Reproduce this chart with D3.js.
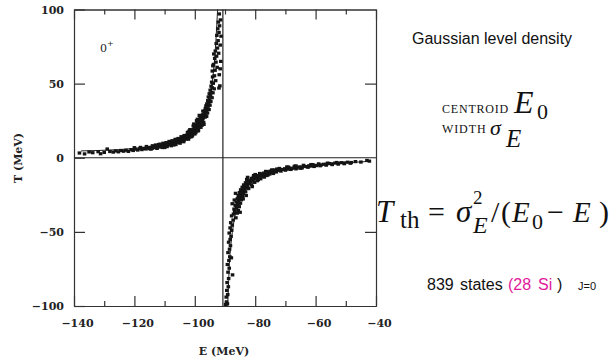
<!DOCTYPE html>
<html>
<head>
<meta charset="utf-8">
<title>T vs E, Gaussian level density</title>
<script src="https://cdn.jsdelivr.net/npm/d3@7"></script>
<style>
  body { margin: 0; background: #fff; }
  .tick text { font-family: "DejaVu Serif", serif; font-weight: bold; font-size: 11px; fill: #222; }
  .domain, .tick line { stroke: #333; stroke-width: 1.2px; }
  .math { font-family: "Liberation Serif", serif; fill: #111; }
</style>
</head>
<body>
<script>
// centroid of the level density (MeV)
const centroid = -90.7;

const xMajorTicks = [-140, -120, -100, -80, -60, -40];
const xMinorTicks = [-130, -110, -90, -70, -50];
const yTicks = [-100, -50, 0, 50, 100];

// states below the centroid : [E, T]
const upperStates = [
  [-138.2,3.2],[-136.5,2.6],[-135.0,3.9],[-133.8,3.4],[-132.0,4.1],[-131.2,2.7],[-130.0,3.6],[-129.0,5.9],
  [-128.1,4.2],[-127.0,3.8],[-126.2,4.6],[-125.3,4.0],[-124.5,4.9],[-123.6,4.4],[-122.8,5.1],[-122.0,4.3],
  [-121.1,5.4],[-120.4,4.9],[-119.6,5.8],[-118.9,5.2],[-118.2,6.1],[-117.5,5.5],[-116.9,6.3],[-116.2,5.9],
  [-115.6,6.6],[-115.0,6.1],
  [-114.6,7.0],[-114.1,6.4],[-113.7,7.3],[-113.2,6.8],[-112.8,7.6],[-112.3,7.1],[-111.9,8.0],[-111.4,7.4],
  [-111.0,8.3],[-110.6,7.8],[-110.2,8.8],[-109.8,8.1],[-109.4,9.0],[-109.0,8.5],[-108.6,9.4],[-108.2,8.9],
  [-107.9,9.9],[-107.5,9.2],[-107.1,10.3],[-106.8,9.6],[-106.4,10.8],[-106.1,10.1],[-105.7,11.2],[-105.4,10.5],
  [-105.0,11.8],[-104.7,11.0],[-104.4,12.4],[-104.1,11.5],[-103.8,12.9],[-103.5,12.0],[-103.2,13.4],[-102.9,12.6],
  [-102.6,14.0],[-112.0,8.9],[-108.0,10.6],[-106.0,12.3],[-104.0,13.8],[-110.0,6.9],[-107.0,8.6],
  [-120.0,6.8],[-118.0,7.0],[-116.0,7.6],[-114.0,8.1],[-113.0,8.6],[-111.5,9.2],[-110.5,9.8],[-109.5,10.2],
  [-108.5,11.0],[-107.5,11.5],[-106.5,12.4],[-105.5,13.0],[-104.5,14.2],[-103.5,15.0],[-114.5,5.8],[-112.5,6.3],
  [-110.8,6.9],[-109.2,7.5],[-107.8,8.1],[-106.3,8.9],[-104.9,9.8],[-103.7,10.8],
  [-102.8,13.1],[-102.7,15.2],[-102.5,14.3],[-102.3,13.6],[-102.2,16.0],[-102.0,14.9],[-101.8,15.8],[-101.7,13.9],
  [-101.5,16.7],[-101.4,15.3],[-101.2,17.5],[-101.0,16.1],[-100.9,18.3],[-100.7,16.9],[-100.6,19.0],[-100.4,17.6],
  [-100.2,20.1],[-100.1,18.4],[-99.9,19.5],[-99.8,21.2],[-99.6,18.9],[-99.5,22.0],[-99.3,20.4],[-99.2,23.1],
  [-99.0,21.3],[-98.9,19.8],[-98.7,24.0],[-98.6,22.2],[-98.4,25.3],[-98.3,23.1],[-98.1,21.9],[-98.0,26.2],
  [-97.8,24.4],[-97.7,27.5],[-97.5,25.6],[-97.4,29.0],[-97.2,26.8],[-97.1,23.9],[-96.9,30.2],[-96.8,28.0],
  [-101.9,18.0],[-100.5,21.5],[-99.4,25.0],[-98.5,28.6],[-100.8,14.8],[-99.7,16.9],[-98.8,18.5],[-97.6,22.0],
  [-102.4,17.2],[-101.6,19.0],[-100.3,22.8],[-99.1,26.0],[-98.2,27.8],[-97.3,31.5],[-102.1,12.5],[-101.1,14.2],
  [-100.0,16.0],[-99.0,18.0],[-98.0,20.5],[-97.0,22.5],
  [-96.7,31.5],[-96.6,27.4],[-96.5,33.2],[-96.4,29.6],[-96.3,35.0],[-96.2,31.1],[-96.1,27.9],[-96.0,36.4],
  [-95.9,33.0],[-95.8,30.2],[-95.7,38.5],[-95.6,34.8],[-95.5,41.0],[-95.4,36.9],[-95.3,32.5],[-95.2,43.2],
  [-95.1,39.1],[-95.0,35.4],[-94.9,45.6],[-94.8,41.8],[-94.7,37.9],[-94.6,48.3],[-94.5,44.0],[-94.4,51.0],
  [-94.3,40.5],[-94.2,47.2],[-94.1,54.5],[-94.0,43.8],
  [-94.2,58.5],[-93.9,50.2],[-93.8,63.0],[-93.6,46.5],[-93.5,55.3],[-93.4,67.0],[-93.3,59.0],[-93.2,72.0],
  [-93.1,52.0],[-93.0,64.5],[-92.9,77.0],[-92.8,68.5],[-92.7,82.5],[-92.6,61.0],[-92.5,74.0],[-92.4,87.0],
  [-92.3,79.0],[-92.2,91.5],[-92.1,70.5],[-92.0,84.5],[-91.9,56.0],[-91.8,89.0],[-91.7,48.5],[-91.6,76.0],
  [-91.5,93.0],[-91.4,65.0],[-91.3,82.0],[-91.6,60.0],[-92.0,47.0],[-91.9,97.0],[-93.7,70.0],[-94.0,62.0]
];

// states above the centroid : [E, T]
const lowerStates = [
  [-89.8,-99.0],[-89.5,-97.2],[-89.2,-98.5],[-89.6,-94.0],[-89.1,-92.3],[-89.4,-89.5],[-88.9,-87.0],[-89.3,-84.2],
  [-88.8,-81.5],[-87.5,-79.0],[-89.0,-77.2],[-88.6,-74.5],[-89.2,-72.0],[-88.7,-69.3],[-88.4,-66.8],[-89.0,-64.0],
  [-88.5,-61.7],[-88.2,-59.3],[-88.8,-57.0],[-88.3,-55.1],[-88.0,-53.0],[-87.9,-67.5],[-88.6,-50.8],[-87.8,-49.0],
  [-88.3,-47.3],[-87.6,-45.5],[-88.1,-43.8],[-87.3,-42.0],[-86.4,-40.5],[-87.8,-39.2],
  [-87.2,-38.0],[-86.0,-37.4],[-86.8,-36.2],[-85.6,-35.5],[-87.0,-34.6],[-86.2,-33.8],[-85.3,-33.0],[-86.6,-32.1],
  [-85.8,-31.4],[-84.9,-30.7],[-86.3,-29.8],[-85.5,-29.0],[-84.6,-28.4],[-85.9,-27.6],[-85.1,-26.9],[-84.2,-26.2],
  [-85.6,-25.5],[-84.8,-24.8],[-83.9,-24.1],[-85.2,-23.5],[-84.4,-22.8],[-83.5,-22.2],[-84.8,-21.6],[-83.9,-21.0],
  [-83.0,-20.4],[-84.3,-19.9],[-83.4,-19.3],[-82.5,-18.8],[-83.8,-18.3],[-82.9,-17.8],[-82.0,-17.3],[-83.2,-16.9],
  [-82.3,-16.4],[-81.4,-16.0],[-82.7,-15.6],[-81.7,-15.2],[-80.8,-14.8],[-86.9,-28.5],[-85.0,-36.8],[-83.0,-25.5],
  [-82.8,-14.6],[-81.0,-19.5],[-87.6,-31.0],[-86.5,-24.0],
  [-84.0,-27.8],[-83.2,-23.0],[-82.2,-20.8],[-81.2,-18.2],[-80.2,-16.6],[-79.3,-15.5],[-78.2,-14.2],[-77.2,-12.8],
  [-76.2,-12.0],[-75.2,-11.0],[-74.2,-10.0],[-73.0,-9.6],[-71.5,-9.0],[-70.0,-8.4],[-68.2,-7.9],[-66.5,-7.5],
  [-64.5,-6.9],[-62.5,-6.4],[-60.5,-5.9],[-58.5,-5.4],[-56.5,-5.0],[-54.5,-4.6],[-52.5,-4.3],[-50.5,-4.0],
  [-48.5,-3.7],[-82.5,-13.2],[-80.5,-12.0],[-78.5,-10.6],[-76.5,-9.2],[-74.5,-8.2],[-72.0,-7.2],[-69.5,-6.2],
  [-67.0,-5.7],[-64.0,-5.1],[-61.5,-4.6],[-59.0,-4.1],[-56.0,-3.6],[-53.0,-3.2],
  [-80.2,-14.3],[-81.2,-13.9],[-79.5,-13.7],[-80.6,-13.2],[-78.8,-13.0],[-79.9,-12.6],[-78.1,-12.4],[-79.2,-12.0],
  [-77.4,-11.8],[-78.5,-11.4],[-76.7,-11.2],[-77.8,-10.9],[-76.0,-10.7],[-77.1,-10.3],[-75.3,-10.2],[-76.4,-9.9],
  [-74.6,-9.7],[-75.7,-9.4],[-73.9,-9.3],[-75.0,-9.0],[-73.2,-8.9],[-74.3,-8.6],[-72.5,-8.5],[-73.6,-8.2],
  [-71.8,-8.1],[-79.0,-14.8],[-77.0,-13.0],[-75.8,-11.6],[-80.0,-11.3],[-74.0,-10.6],[-72.8,-7.6],
  [-71.0,-7.9],[-70.2,-7.4],[-69.4,-7.7],[-68.6,-7.0],[-67.8,-7.2],[-67.0,-6.6],[-66.2,-6.9],[-65.4,-6.2],
  [-64.6,-6.4],[-63.8,-5.8],[-63.0,-6.0],[-62.2,-5.4],[-61.4,-5.6],[-60.6,-5.0],[-59.8,-5.3],[-59.0,-4.7],
  [-58.2,-4.9],[-57.4,-4.4],[-69.0,-6.3],[-65.0,-7.1],[-61.0,-4.6],[-66.5,-5.5],
  [-56.4,-4.3],[-55.5,-3.9],[-54.6,-4.1],[-53.6,-3.6],[-52.5,-3.8],[-51.5,-3.3],[-50.5,-3.5],[-49.4,-3.0],
  [-48.2,-3.2],[-46.8,-2.6],[-45.0,-2.9],[-43.0,-1.8],[-42.2,-2.3]
];

// theory curve T_th
const curveUpperE = [-137.7, -132, -126, -120, -114, -108, -104, -101, -99, -97, -95.5, -94.5, -93.5, -92.9, -92.45];
const curveUpperT = [4.6, 4.9, 5.4, 6.3, 7.9, 10.6, 13.9, 17.8, 22.0, 28.9, 38.0, 48.0, 65.0, 83.0, 100];
const curveLowerE = [-89.1, -88.6, -88.0, -87.2, -86.0, -84.5, -82.5, -80, -77, -73, -68, -62, -56, -50, -45, -42];
const curveLowerT = [-100, -74, -58, -45, -33.5, -25.3, -19.1, -14.6, -11.3, -8.6, -6.6, -5.1, -4.1, -3.3, -2.8, -2.4];

var width = 616, height = 361;
var plot = { left: 74, right: 376, top: 9.5, bottom: 306 };

var svg = d3.select("body").append("svg")
  .attr("width", width)
  .attr("height", height);

var x = d3.scaleLinear().domain([-140, -40]).range([plot.left, plot.right]);
var y = d3.scaleLinear().domain([-100, 100]).range([plot.bottom, plot.top]);

//ticks all point inward, major ones longer
function styleAxis(g) {
  g.selectAll(".tick line").attr("stroke", "#333");
  g.select(".domain").attr("stroke", "#333");
}

svg.append("g").attr("transform", "translate(0," + plot.bottom + ")")
  .call(d3.axisBottom(x).tickValues(xMajorTicks).tickSizeInner(-10).tickSizeOuter(0).tickPadding(13))
  .call(styleAxis)
  .selectAll("text").attr("dx", 3);
svg.append("g").attr("transform", "translate(0," + plot.bottom + ")")
  .call(d3.axisBottom(x).tickValues(xMinorTicks).tickSizeInner(-5).tickSizeOuter(0).tickFormat(""))
  .call(styleAxis);
svg.append("g").attr("transform", "translate(0," + plot.top + ")")
  .call(d3.axisTop(x).tickValues(xMajorTicks).tickSizeInner(-10).tickSizeOuter(0).tickFormat(""))
  .call(styleAxis);
svg.append("g").attr("transform", "translate(0," + plot.top + ")")
  .call(d3.axisTop(x).tickValues(xMinorTicks).tickSizeInner(-5).tickSizeOuter(0).tickFormat(""))
  .call(styleAxis);
svg.append("g").attr("transform", "translate(" + plot.left + ",0)")
  .call(d3.axisLeft(y).tickValues(yTicks).tickSizeInner(-11).tickSizeOuter(0).tickPadding(10))
  .call(styleAxis);
svg.append("g").attr("transform", "translate(" + plot.right + ",0)")
  .call(d3.axisRight(y).tickValues([-50, 50]).tickSizeInner(-11).tickSizeOuter(0).tickFormat(""))
  .call(styleAxis);

// zero line and the centroid line
svg.append("line")
  .attr("x1", plot.left).attr("x2", plot.right)
  .attr("y1", y(0)).attr("y2", y(0))
  .attr("stroke", "#222").attr("stroke-width", 1.2);
svg.append("line")
  .attr("x1", x(centroid)).attr("x2", x(centroid))
  .attr("y1", plot.top).attr("y2", plot.bottom)
  .attr("stroke", "#222").attr("stroke-width", 1.2);

// theory curve
var line = d3.line()
  .x(function (d) { return x(d[0]); })
  .y(function (d) { return y(d[1]); })
  .curve(d3.curveMonotoneX);
[[curveUpperE, curveUpperT], [curveLowerE, curveLowerT]].forEach(function (c) {
  svg.append("path")
    .datum(d3.zip(c[0], c[1]))
    .attr("d", line)
    .attr("fill", "none")
    .attr("stroke", "#222")
    .attr("stroke-width", 1);
});

// the states
svg.append("g").selectAll("rect")
  .data(upperStates.concat(lowerStates))
  .enter().append("rect")
  .attr("x", function (d) { return x(d[0]) - 1.8; })
  .attr("y", function (d) { return y(d[1]) - 1.6; })
  .attr("width", 3.6)
  .attr("height", 3.2)
  .attr("fill", "#141414");

// axis titles
svg.append("text")
  .attr("x", 224).attr("y", 355)
  .attr("text-anchor", "middle")
  .style("font-family", "DejaVu Serif").style("font-weight", "bold")
  .style("font-size", "11px").style("fill", "#222")
  .text("E (MeV)");
svg.append("text")
  .attr("transform", "translate(22,158) rotate(-90)")
  .attr("text-anchor", "middle")
  .style("font-family", "DejaVu Serif").style("font-weight", "bold")
  .style("font-size", "11px").style("fill", "#222")
  .text("T (MeV)");

// 0+ label
var lab = svg.append("text")
  .attr("x", 100).attr("y", 52)
  .style("font-family", "DejaVu Serif").style("font-size", "11px").style("fill", "#222");
lab.append("tspan").text("0");
lab.append("tspan").attr("dy", -6).style("font-size", "8px").text("+");

// right hand annotations
svg.append("text")
  .attr("x", 412).attr("y", 44)
  .style("font-family", "Liberation Sans").style("font-size", "16px").style("fill", "#111")
  .text("Gaussian level density");

function math(str, px, py, size, italic) {
  svg.append("text")
    .attr("class", "math")
    .attr("x", px).attr("y", py)
    .style("font-size", size + "px")
    .style("font-style", italic ? "italic" : "normal")
    .text(str);
}

svg.append("text").attr("class", "math")
  .attr("x", 442).attr("y", 112.5)
  .style("font-size", "12px").style("letter-spacing", "0.8px")
  .text("CENTROID");
math("E", 514, 113, 32, true);
math("0", 537, 119, 22, false);
svg.append("text").attr("class", "math")
  .attr("x", 442).attr("y", 133)
  .style("font-size", "12px").style("letter-spacing", "0.9px")
  .text("WIDTH");
math("σ", 490, 135, 22, true);
math("E", 506, 147, 25, true);

// T_th = sigma_E^2 / (E0 - E)
math("T", 376, 222, 31, true);
math("th", 400, 228, 25, false);
math("=", 428, 222, 30, false);
math("σ", 456, 222, 31, true);
math("2", 473, 204, 19, false);
math("E", 473, 233, 24, true);
math("/", 491, 222, 30, false);
math("(", 501, 222, 30, false);
math("E", 512, 222, 29, true);
math("0", 532, 229, 22, false);
math("−", 547, 222, 30, false);
math("E", 573, 222, 29, true);
math(")", 599, 222, 30, false);

// sample info
var info = svg.append("text")
  .attr("y", 290)
  .style("font-family", "Liberation Sans").style("font-size", "16px").style("fill", "#111");
info.append("tspan").attr("x", 427).text("839");
info.append("tspan").attr("x", 460).text("states");
info.append("tspan").attr("x", 508).style("fill", "#e0189a").text("(28");
info.append("tspan").attr("x", 538).style("fill", "#e0189a").text("Si");
info.append("tspan").attr("x", 557).text(")");
info.append("tspan").attr("x", 578).style("font-size", "11px").text("J=0");
</script>
</body>
</html>
